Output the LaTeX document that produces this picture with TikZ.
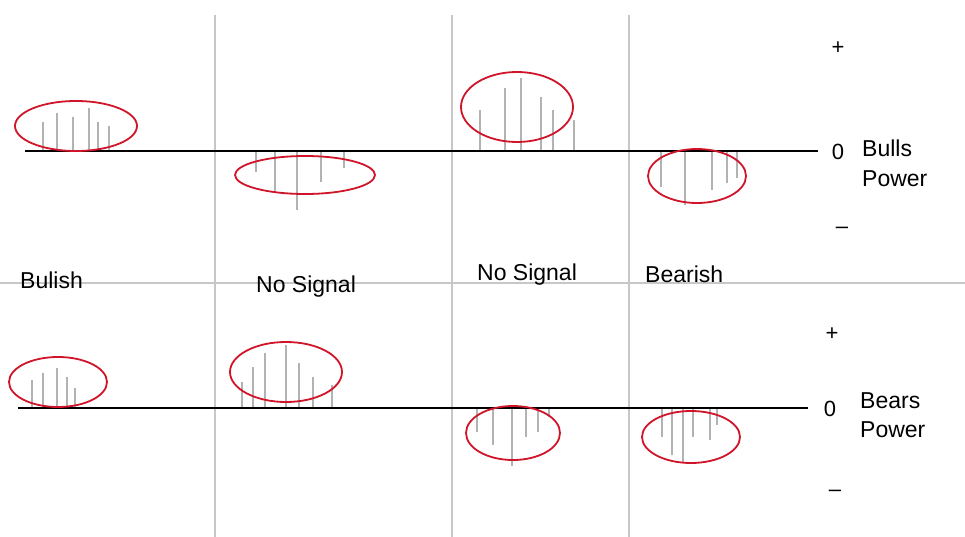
\documentclass[tikz,border=0pt]{standalone}
\usepackage{fontspec}
\setmainfont{Liberation Sans}
\definecolor{ovalred}{HTML}{D0152A}
\begin{document}
\begin{tikzpicture}[x=1pt,y=-1pt,
  grid/.style={draw=black!22,line width=1.3pt},
  zero/.style={draw=black,line width=2pt},
  oval/.style={draw=ovalred,line width=1.8pt},
  bar/.style={draw=black!30,line width=1.4pt},
  lbl/.style={font=\fontsize{23}{26}\selectfont,inner sep=0pt,anchor=base west},
  sgn/.style={font=\fontsize{22}{24}\selectfont,inner sep=0pt}]
\useasboundingbox (0,0) rectangle (965,537);
\fill[white] (0,0) rectangle (965,537);
% grid
\draw[grid] (215,15) -- (215,537);
\draw[grid] (452,15) -- (452,537);
\draw[grid] (629,15) -- (629,537);
\draw[grid] (0,283) -- (965,283);
% top bars
\foreach \x/\t in {43/122,57/113,73/117,89/108,98/122,109/126,
                   480/110,505/88,521/78,541/97,553/110,574/120}
  \draw[bar] (\x,151) -- (\x,\t);
\foreach \x/\t in {256/172,275/192,297/210,321/182,344/168,
                   661/187,685/205,712/190,727/183,737/178}
  \draw[bar] (\x,151) -- (\x,\t);
% bottom bars
\foreach \x/\t in {32/380,43/373,57/368,67/377,75/388,
                   242/382,253/367,265/353,286/345,299/363,313/377,332/385}
  \draw[bar] (\x,408) -- (\x,\t);
\foreach \x/\t in {477/432,493/445,512/466,526/437,538/432,549/417,
                   662/437,672/455,683/462,693/437,710/440,717/425}
  \draw[bar] (\x,408) -- (\x,\t);
% zero lines
\draw[zero] (25,151) -- (818,151);
\draw[zero] (18,408) -- (808,408);
% ovals
\draw[oval] (76,126) ellipse [x radius=61, y radius=25];
\draw[oval] (305,175) ellipse [x radius=70, y radius=19];
\draw[oval] (517,107) ellipse [x radius=56, y radius=35];
\draw[oval] (697,176) ellipse [x radius=49, y radius=27];
\draw[oval] (58,382) ellipse [x radius=49, y radius=25];
\draw[oval] (286,372) ellipse [x radius=56, y radius=30];
\draw[oval] (513,433) ellipse [x radius=47, y radius=27];
\draw[oval] (691,437) ellipse [x radius=49, y radius=26];
% axis labels
\node[sgn] (tplus) at (838,48) {+};
\node[sgn] (tzero) at (838,152) {0};
\node[sgn] (tminus) at (842,230) {\textendash};
\node[lbl] (bulls) at (862,157) {Bulls};
\node[lbl] (bpow1) at (862,187) {Power};
\node[sgn] (bplus) at (832,334) {+};
\node[sgn] (bzero) at (830,409) {0};
\node[sgn] (bminus) at (835,493) {\textendash};
\node[lbl] (bears) at (860,408) {Bears};
\node[lbl] (bpow2) at (860,437) {Power};
% signal labels
\node[lbl] (s1) at (20,288) {Bulish};
\node[lbl] (s2) at (256,292) {No Signal};
\node[lbl] (s3) at (477,280) {No Signal};
\node[lbl] (s4) at (645,282) {Bearish};
\end{tikzpicture}
\end{document}
